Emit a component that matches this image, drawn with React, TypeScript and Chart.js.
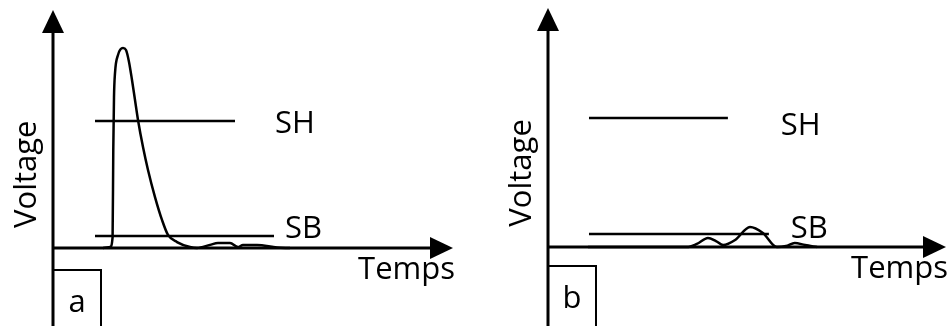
import React, { useEffect, useRef } from "react";
import { Chart, registerables } from "chart.js";

Chart.register(...registerables);

// ---- data (abstract units: x 0..100 along time axis, y 0..100 along voltage axis) ----
const X_MAX = 100;
const Y_MAX = 100;

const curveA_x = [12.5, 14.25, 14.9, 15.07, 15.25, 15.5, 16.25, 17.5, 18.25, 19, 19.75, 20.5, 21.25, 22.5, 23.75, 25.5, 27.25, 28.75, 31, 34.25, 36, 39.25, 41.25, 44.25, 46.25, 47.5, 51, 56, 59.25];
const curveA_y = [0, 0.4, 4.6, 41.2, 63.4, 73.5, 81.1, 84, 83.2, 78.2, 70.6, 62.2, 53.8, 42.4, 32.8, 21.4, 11.8, 5.5, 2.5, 0.4, 0, 1.3, 2.1, 2.1, 0.4, 1.3, 1.3, 0.2, 0];

const curveB_x = [10.05, 34.9, 37.4, 40.2, 42.2, 44, 47, 50.75, 54, 57.5, 59.8, 62, 64.6, 67.6];
const curveB_y = [0, 0, 1.3, 3.8, 2.5, 0.8, 2.9, 8.4, 5.9, 0, 0.4, 1.7, 0.8, 0];

const thresholdNames = ["SH", "SB"];
const thresholdsA = [53.4, 5.0];
const thresholdStartA = [10.5, 10.5];
const thresholdEndA = [45.5, 55.25];
const thresholdLabelXA = [55.5, 58];
const thresholdLabelYA = [48.3, 4.2];

const thresholdsB = [54, 5.4];
const thresholdStartB = [10.3, 10.3];
const thresholdEndB = [45.2, 55.5];
const thresholdLabelXB = [58.5, 61];
const thresholdLabelYB = [46.9, 3.8];

const yAxisTitle = "Voltage";
const xAxisTitle = "Temps";
const voltageLabelY = 31;
const panelLetters = ["a", "b"];

const FONT = '31px "Open Sans", "Noto Sans", sans-serif';

const arrowAxesPlugin = {
  id: "arrowAxes",
  beforeDatasetsDraw(chart: any, _args: any, opts: any) {
    const { ctx, scales } = chart;
    const xs = scales.x;
    const ys = scales.y;
    const x0 = xs.getPixelForValue(0);
    const y0 = ys.getPixelForValue(0);
    const xEnd = xs.getPixelForValue(X_MAX);
    const yEnd = ys.getPixelForValue(Y_MAX);
    const H = chart.height;
    const aLen = 23;
    const aHalf = 11;
    ctx.save();
    ctx.strokeStyle = "#000";
    ctx.fillStyle = "#000";
    ctx.lineWidth = 3;
    // y axis
    ctx.beginPath();
    ctx.moveTo(x0, H + 2);
    ctx.lineTo(x0, yEnd + aLen - 1);
    ctx.stroke();
    ctx.beginPath();
    ctx.moveTo(x0, yEnd);
    ctx.lineTo(x0 - aHalf, yEnd + aLen);
    ctx.lineTo(x0 + aHalf, yEnd + aLen);
    ctx.closePath();
    ctx.fill();
    // x axis
    ctx.beginPath();
    ctx.moveTo(x0 - 1, y0);
    ctx.lineTo(xEnd - aLen + 1, y0);
    ctx.stroke();
    ctx.beginPath();
    ctx.moveTo(xEnd, y0);
    ctx.lineTo(xEnd - aLen, y0 - aHalf);
    ctx.lineTo(xEnd - aLen, y0 + aHalf);
    ctx.closePath();
    ctx.fill();
    // letter box
    ctx.lineWidth = 2;
    const boxTop = y0 + opts.boxOffset;
    ctx.strokeRect(x0, boxTop, 48, H + 10 - boxTop);
    ctx.restore();
  },
  afterDatasetsDraw(chart: any, _args: any, opts: any) {
    const { ctx, scales } = chart;
    const xs = scales.x;
    const ys = scales.y;
    const x0 = xs.getPixelForValue(0);
    const y0 = ys.getPixelForValue(0);
    const xEnd = xs.getPixelForValue(X_MAX);
    ctx.save();
    ctx.fillStyle = "#000";
    ctx.font = FONT;
    ctx.textAlign = "left";
    ctx.textBaseline = "alphabetic";
    for (let i = 0; i < thresholdNames.length; i++) {
      ctx.fillText(
        thresholdNames[i],
        xs.getPixelForValue(opts.labelX[i]),
        ys.getPixelForValue(opts.labelY[i])
      );
    }
    ctx.textAlign = "right";
    ctx.fillText(xAxisTitle, xEnd + 2, y0 + 31);
    ctx.textAlign = "center";
    ctx.fillText(opts.letter, x0 + 24, y0 + opts.boxOffset + 42);
    ctx.translate(x0 - 17, ys.getPixelForValue(voltageLabelY));
    ctx.rotate(-Math.PI / 2);
    ctx.textAlign = "center";
    ctx.fillText(yAxisTitle, 0, 0);
    ctx.restore();
  },
};

type PanelProps = {
  width: number;
  curveX: number[];
  curveY: number[];
  thr: number[];
  thrStart: number[];
  thrEnd: number[];
  labelX: number[];
  labelY: number[];
  letter: string;
  boxOffset: number;
  padding: { left: number; right: number; top: number; bottom: number };
};

function Panel(p: PanelProps) {
  const ref = useRef<HTMLCanvasElement | null>(null);
  useEffect(() => {
    if (!ref.current) return;
    const line = (i: number) => ({
      data: [
        { x: p.thrStart[i], y: p.thr[i] },
        { x: p.thrEnd[i], y: p.thr[i] },
      ],
      borderColor: "#000",
      borderWidth: 2.5,
      pointRadius: 0,
      tension: 0,
      fill: false,
    });
    const chart = new Chart(ref.current, {
      type: "line",
      data: {
        datasets: [
          {
            data: p.curveX.map((x, i) => ({ x, y: p.curveY[i] })),
            borderColor: "#000",
            borderWidth: 2.5,
            pointRadius: 0,
            cubicInterpolationMode: "monotone",
            fill: false,
            clip: false,
          } as any,
          line(0),
          line(1),
        ],
      },
      options: {
        animation: false,
        responsive: false,
        maintainAspectRatio: false,
        layout: { padding: p.padding },
        events: [],
        plugins: {
          legend: { display: false },
          tooltip: { enabled: false },
          arrowAxes: { letter: p.letter, labelX: p.labelX, labelY: p.labelY, boxOffset: p.boxOffset },
        } as any,
        scales: {
          x: { type: "linear", min: 0, max: X_MAX, display: false },
          y: { type: "linear", min: 0, max: Y_MAX, display: false },
        },
      },
      plugins: [arrowAxesPlugin],
    });
    return () => chart.destroy();
  }, []);
  return (
    <canvas
      ref={ref}
      width={p.width}
      height={326}
      style={{ display: "block", width: p.width, height: 326 }}
    />
  );
}

export default function App() {
  return (
    <div
      style={{
        position: "absolute",
        left: 0,
        top: 0,
        width: 951,
        height: 326,
        background: "#fff",
        display: "flex",
        overflow: "hidden",
      }}
    >
      <Panel
        width={476}
        curveX={curveA_x}
        curveY={curveA_y}
        thr={thresholdsA}
        thrStart={thresholdStartA}
        thrEnd={thresholdEndA}
        labelX={thresholdLabelXA}
        labelY={thresholdLabelYA}
        letter={panelLetters[0]}
        boxOffset={22}
        padding={{ left: 53, right: 23, top: 10, bottom: 78 }}
      />
      <Panel
        width={475}
        curveX={curveB_x}
        curveY={curveB_y}
        thr={thresholdsB}
        thrStart={thresholdStartB}
        thrEnd={thresholdEndB}
        labelX={thresholdLabelXB}
        labelY={thresholdLabelYB}
        letter={panelLetters[1]}
        boxOffset={19}
        padding={{ left: 72, right: 5, top: 8, bottom: 79 }}
      />
    </div>
  );
}
